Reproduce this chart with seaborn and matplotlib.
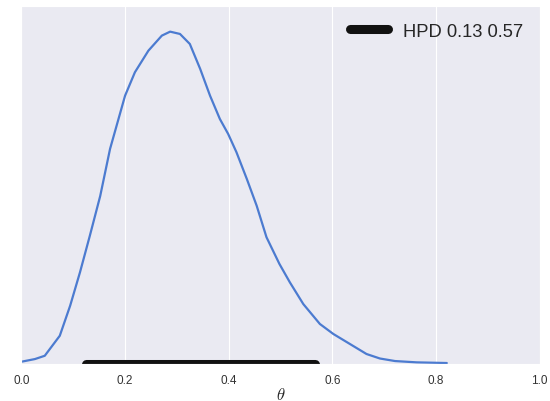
import matplotlib
matplotlib.use("Agg")
import matplotlib.pyplot as plt
import seaborn as sns
import pandas as pd

# Posterior density curve
theta = [0.000, 0.026, 0.045, 0.074, 0.094, 0.113, 0.132, 0.152, 0.171, 0.200,
         0.219, 0.245, 0.271, 0.287, 0.306, 0.325, 0.345, 0.364, 0.383, 0.399,
         0.415, 0.435, 0.454, 0.473, 0.498, 0.518, 0.544, 0.576, 0.602, 0.634,
         0.666, 0.692, 0.721, 0.763, 0.821]
density = [0.021, 0.045, 0.075, 0.257, 0.530, 0.834, 1.166, 1.527, 1.955, 2.439,
           2.652, 2.848, 2.985, 3.021, 3.000, 2.909, 2.682, 2.439, 2.227, 2.091,
           1.925, 1.682, 1.439, 1.152, 0.909, 0.743, 0.545, 0.364, 0.273, 0.182,
           0.091, 0.050, 0.027, 0.015, 0.009]

# HPD interval
hpd = [0.125, 0.567]
hpd_label = "HPD 0.13 0.57"
xticks = [0.0, 0.2, 0.4, 0.6, 0.8, 1.0]

sns.set_style("darkgrid")
plt.rcParams["font.family"] = ["Liberation Sans", "DejaVu Sans"]
plt.rcParams["mathtext.fontset"] = "cm"

fig = plt.figure(figsize=(5.5, 4.02), dpi=100)
ax = fig.add_axes([0.039, 0.092, 0.942, 0.890])

df = pd.DataFrame({"theta": theta, "density": density})
sns.lineplot(data=df, x="theta", y="density", ax=ax, color="#4C7BD0",
             linewidth=1.6, sort=False)

hdf = pd.DataFrame({"x": hpd, "y": [0.0, 0.0]})
sns.lineplot(data=hdf, x="x", y="y", ax=ax, color="#111111", linewidth=6.5,
             solid_capstyle="round", label=hpd_label)

ax.set_xlim(0, 1)
ax.set_ylim(0, 3.252)
ax.set_xticks(xticks)
ax.set_xticklabels([f"{t:.1f}" for t in xticks])
ax.set_yticks([])
ax.set_ylabel("")
ax.set_xlabel(r"$\theta$", fontsize=12, labelpad=0)
ax.tick_params(axis="x", labelsize=8.5, pad=4, labelcolor="#333333")
ax.grid(axis="y", visible=False)

leg = ax.legend(loc="upper right", frameon=False, fontsize=13.2,
                handlelength=2.07, borderaxespad=0.5)

fig.savefig("out.png", dpi=100)
